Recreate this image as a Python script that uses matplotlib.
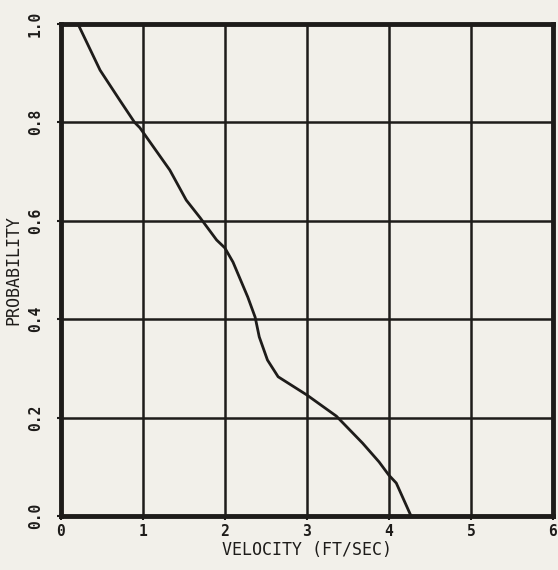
import numpy as np
import matplotlib.pyplot as plt

# velocity (ft/sec) vs probability
velocity = [0.21, 0.48, 0.72, 0.90, 0.965, 1.33, 1.53, 1.70, 1.90, 2.0, 2.10,
            2.28, 2.37, 2.42, 2.52, 2.65, 3.0, 3.36, 3.68, 3.88, 4.0, 4.09, 4.27]
probability = [1.0, 0.906, 0.845, 0.80, 0.789, 0.703, 0.642, 0.606, 0.561, 0.545, 0.516,
               0.445, 0.404, 0.364, 0.317, 0.283, 0.246, 0.203, 0.148, 0.11, 0.083, 0.067, 0.0]

xticks = [0, 1, 2, 3, 4, 5, 6]
yticks = [0.0, 0.2, 0.4, 0.6, 0.8, 1.0]
ylabels = ['0.0', '0.2', '0.4', '0.6', '0.8', '1.0']

paper = '#f2f0ea'
ink = '#1e1c1a'
plt.rcParams['font.family'] = ['DejaVu Sans Mono']

fig = plt.figure(figsize=(5.58, 5.70), dpi=100, facecolor=paper)
ax = fig.add_axes([0.1088, 0.0947, 0.8822, 0.8633], facecolor=paper)

ax.plot(velocity, probability, color=ink, lw=2.0, zorder=3)

ax.set_xlim(0, 6)
ax.set_ylim(0, 1)
ax.set_xticks(xticks)
ax.set_yticks(yticks)
ax.set_yticklabels(ylabels, rotation=90, va='center')
ax.grid(True, color=ink, lw=1.8)
for s in ax.spines.values():
    s.set_linewidth(3.5)
    s.set_color(ink)
ax.tick_params(direction='out', length=3, width=1.5, colors=ink, labelsize=10.5)
ax.tick_params(axis='y', pad=10)
ax.tick_params(axis='x', pad=3)
for lbl in ax.get_xticklabels() + ax.get_yticklabels():
    lbl.set_fontweight('bold')
ax.set_xlabel('VELOCITY (FT/SEC)', fontsize=12, color=ink, labelpad=1)
ax.set_ylabel('PROBABILITY', fontsize=12, color=ink, labelpad=4)

fig.savefig('out.png', dpi=100, facecolor=paper)
